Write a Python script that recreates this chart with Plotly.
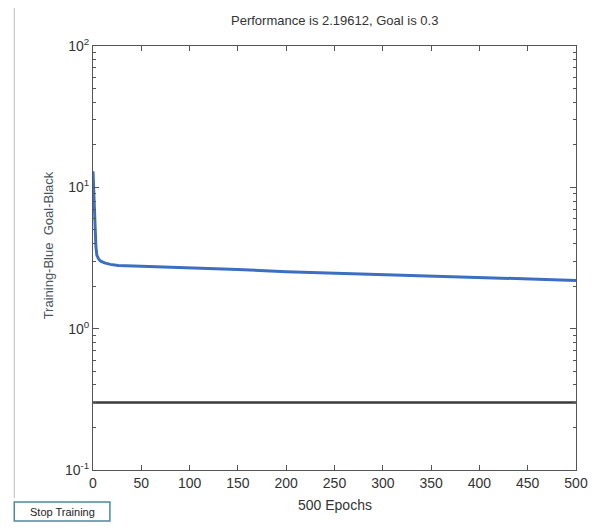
import plotly.graph_objects as go

# training performance
epochs = [0, 1, 2, 3, 4, 6, 8, 12, 18, 26, 50, 85, 150, 200, 250, 317, 400, 450, 500]
perf = [13.0, 8.0, 5.0, 3.8, 3.3, 3.1, 3.0, 2.92, 2.85, 2.8, 2.76, 2.72, 2.62, 2.53, 2.47, 2.42, 2.32, 2.27, 2.196]
goal_epochs = [0, 500]
goal = [0.3, 0.3]

x_ticks = list(range(0, 501, 50))
y_ticks = [0.1, 1, 10, 100]
y_labels = ["10<sup>-1</sup>", "10<sup>0</sup>", "10<sup>1</sup>", "10<sup>2</sup>"]

FONT = "Liberation Sans Narrow, Liberation Sans, Arial, sans-serif"

fig = go.Figure()
fig.add_trace(go.Scatter(
    x=goal_epochs, y=goal, mode="lines",
    line=dict(color="#3a3a3a", width=2.5),
    hoverinfo="skip", showlegend=False,
))
fig.add_trace(go.Scatter(
    x=epochs, y=perf, mode="lines",
    line=dict(color="#3c6fc2", width=3),
    showlegend=False,
))

axis_common = dict(
    showline=True, linecolor="#555555", linewidth=1,
    mirror="allticks", ticks="inside", tickcolor="#555555",
    showgrid=False, zeroline=False,
    tickfont=dict(family=FONT, size=14, color="#333333"),
)
fig.update_xaxes(
    range=[0, 500], tickmode="array", tickvals=x_ticks, ticklen=5,
    **axis_common,
)
fig.update_yaxes(
    type="log", range=[-1, 2], tickmode="array", tickvals=y_ticks,
    ticktext=y_labels, ticklen=6,
    minor=dict(ticks="inside", ticklen=3, dtick="D1", tickcolor="#555555"),
    **axis_common,
)

fig.add_annotation(
    text="Performance is 2.19612, Goal is 0.3", xref="paper", yref="paper",
    x=0.5, y=1.061, xanchor="center", yanchor="middle", showarrow=False,
    font=dict(family=FONT, size=13, color="#333333"),
)
fig.add_annotation(
    text="500 Epochs", xref="paper", yref="paper",
    x=0.5, y=-0.083, xanchor="center", yanchor="middle", showarrow=False,
    font=dict(family=FONT, size=14, color="#333333"),
)
fig.add_annotation(
    text="Training-Blue  Goal-Black", xref="paper", yref="paper",
    x=-0.093, y=0.53, xanchor="center", yanchor="middle",
    textangle=-90, showarrow=False,
    font=dict(family=FONT, size=13, color="#4a5560"),
)

# figure border and the "Stop Training" button
fig.add_shape(
    type="line", xref="paper", yref="paper",
    x0=-0.163, x1=-0.163, y0=-0.066, y1=1.09,
    line=dict(color="#bbbbbb", width=1),
)
fig.add_shape(
    type="rect", xref="paper", yref="paper",
    x0=-0.163, x1=0.035, y0=-0.12, y1=-0.0755,
    line=dict(color="#4a8aa0", width=1.5), fillcolor="white",
)
fig.add_annotation(
    text="Stop Training", xref="paper", yref="paper",
    x=-0.064, y=-0.098, xanchor="center", yanchor="middle", showarrow=False,
    font=dict(family=FONT, size=11, color="#222222"),
)

# the page adds an 8px body margin, so the figure is 8px smaller
fig.update_layout(
    width=592, height=520,
    margin=dict(l=85, r=22, t=38, b=58),
    paper_bgcolor="white", plot_bgcolor="white",
)
fig.write_html("out.html")
